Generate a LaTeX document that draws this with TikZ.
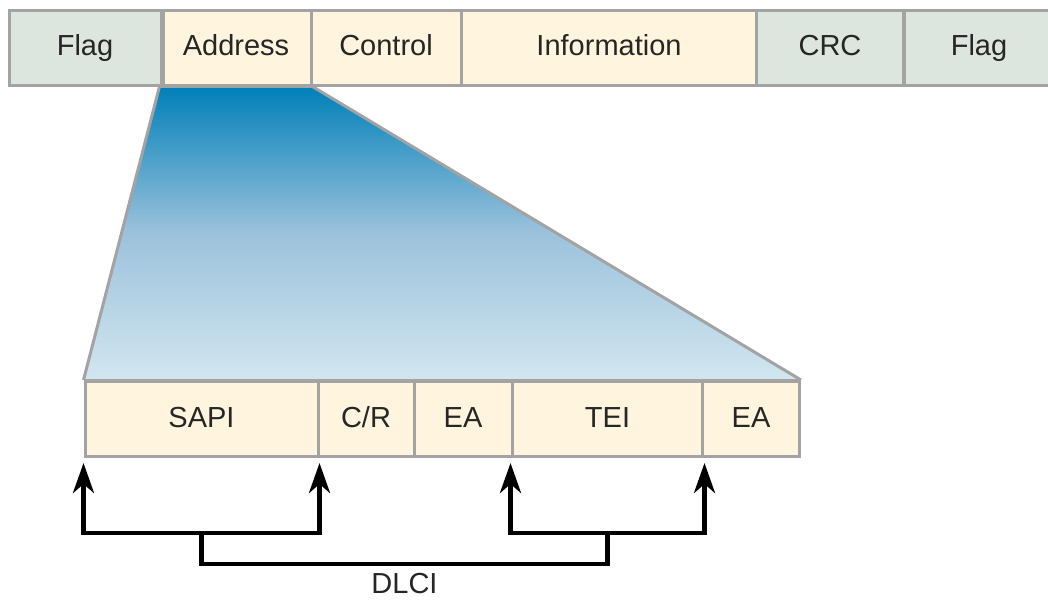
\documentclass[tikz,border=0pt]{standalone}
\usepackage{fontspec}
\setmainfont{Liberation Sans}
\usetikzlibrary{arrows.meta,calc}
\definecolor{flagfill}{HTML}{DCE6DE}
\definecolor{fieldfill}{HTML}{FFF5DE}
\definecolor{edgegray}{HTML}{A3A3A3}
\definecolor{deepblue}{HTML}{0080B8}
\definecolor{midblue}{HTML}{9CC2DC}
\definecolor{paleblue}{HTML}{D2E6EF}
\tikzset{
  field/.style={draw=edgegray, line width=3pt, minimum height=75pt, inner sep=0pt,
    font=\fontsize{29}{34}\selectfont, text=black!85,
    text height=21pt, text depth=5pt},
  cream/.style={field, fill=fieldfill},
  sage/.style={field, fill=flagfill},
  bracket/.style={line width=4.5pt, black},
  tip/.style={-{Stealth[length=30pt,width=21pt,inset=9pt]}, line width=4.5pt, black},
}
\begin{document}
\begin{tikzpicture}[x=1pt,y=-1pt]
\useasboundingbox (0,0) rectangle (1048,600);

% frame fields
\node[sage,  minimum width=152pt] (flag1) at (85,47.5)   {Flag};
\node[cream, minimum width=150pt] (addr)  at (236,47.5)  {Address};
\node[cream, minimum width=150pt] (ctrl)  at (386,47.5)  {Control};
\node[cream, minimum width=295pt] (info)  at (609,47.5)  {Information};
\node[sage,  minimum width=147pt] (crc)   at (830,47.5)  {CRC};
\node[sage,  minimum width=150pt] (flag2) at (979,47.5)  {Flag};

% address field breakdown
\node[cream, minimum width=233pt] (sapi) at (201.5,419) {SAPI};
\node[cream, minimum width=96pt]  (cr)   at (366,419)   {C/R};
\node[cream, minimum width=98pt]  (ea1)  at (463,419)   {EA};
\node[cream, minimum width=191pt] (tei)  at (607.5,419) {TEI};
\node[cream, minimum width=97pt]  (ea2)  at (751,419)   {EA};

% expansion wedge
\shade[top color=deepblue, bottom color=paleblue, middle color=midblue]
  (addr.south west) -- (addr.south east) -- (ea2.north east) -- (sapi.north west) -- cycle;
\draw[edgegray, line width=3pt] (addr.south west) -- (sapi.north west);
\draw[edgegray, line width=3pt] (addr.south east) -- (ea2.north east);
% field borders drawn again over the wedge
\draw[edgegray, line width=3pt] (addr.south west) -- (addr.south east);
\draw[edgegray, line width=3pt] (sapi.north west) -- (ea2.north east);
\draw[edgegray, line width=5pt] (flag1.north east) -- (flag1.south east);

% DLCI brackets
\coordinate (lmid) at ($(sapi.south west)!0.5!(sapi.south east)+(0,75)$);
\coordinate (rmid) at ($(tei.south west)!0.5!(tei.south east)+(0,75)$);
\draw[bracket] (sapi.south west |- lmid) -- (sapi.south east |- lmid);
\draw[bracket] (tei.south west |- rmid) -- (tei.south east |- rmid);
\draw[tip] ([yshift=-2.25pt]sapi.south west |- lmid) -- ([yshift=-5pt]sapi.south west);
\draw[tip] ([yshift=-2.25pt]sapi.south east |- lmid) -- ([yshift=-5pt]sapi.south east);
\draw[tip] ([yshift=-2.25pt]tei.south west |- rmid) -- ([yshift=-5pt]tei.south west);
\draw[tip] ([yshift=-2.25pt]tei.south east |- rmid) -- ([yshift=-5pt]tei.south east);
\draw[bracket] (lmid) -- ++(0,31) -| (rmid);
\node[font=\fontsize{29}{34}\selectfont, text=black!85, anchor=base, inner sep=0pt]
  (dlci) at ($(lmid)!0.5!(rmid)+(0,60)$) {DLCI};
\end{tikzpicture}
\end{document}
